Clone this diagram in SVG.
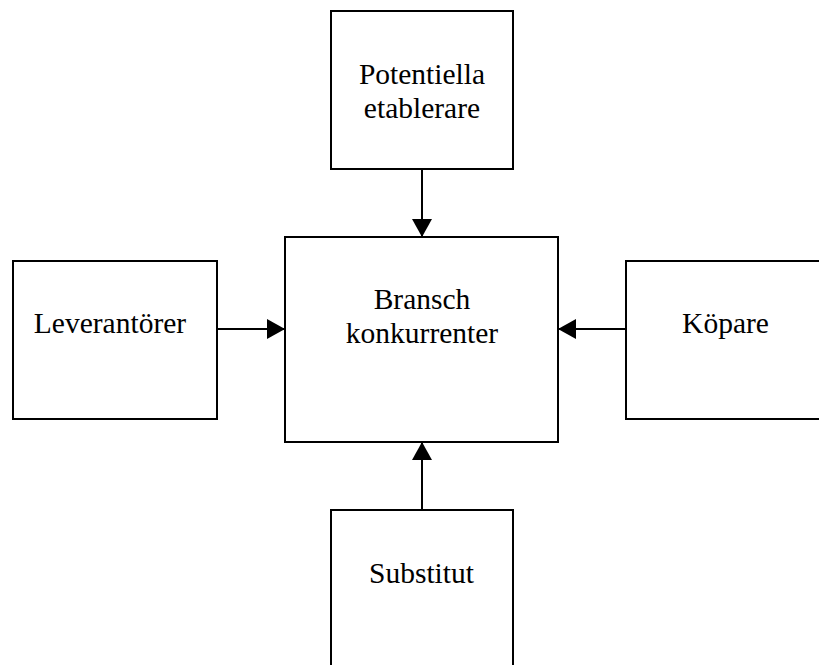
<svg xmlns="http://www.w3.org/2000/svg" width="819" height="665" viewBox="0 0 819 665">
<defs>
<style>
.box{fill:#fff;stroke:#000;stroke-width:2}
.t{font-family:"Liberation Serif","Times New Roman",serif;font-size:29.5px;fill:#000;text-anchor:middle}
.c{stroke:#000;stroke-width:2;fill:none}
</style>
<marker id="ah" markerWidth="18" markerHeight="20" refX="18" refY="10" orient="auto" markerUnits="userSpaceOnUse" viewBox="0 0 18 20">
<path d="M0,0 L18,10 L0,20 Z" fill="#000"/>
</marker>
</defs>
<rect width="819" height="665" fill="#fff"/>
<g id="center">
<rect class="box" x="285" y="237" width="273" height="205"/>
<text class="t" x="422" y="309">Bransch</text>
<text class="t" x="422" y="343">konkurrenter</text>
</g>
<g id="potentiella">
<rect class="box" x="331" y="11" width="182" height="158"/>
<text class="t" x="422" y="84">Potentiella</text>
<text class="t" x="422" y="118">etablerare</text>
</g>
<g id="leverantorer">
<rect class="box" x="13" y="261" width="204" height="158"/>
<text class="t" x="110" y="333">Leverantörer</text>
</g>
<g id="kopare">
<rect class="box" x="626" y="261" width="200" height="158"/>
<text class="t" x="725.5" y="333">Köpare</text>
</g>
<g id="substitut">
<rect class="box" x="331" y="510" width="182" height="170"/>
<text class="t" x="421.5" y="583">Substitut</text>
</g>
<g id="connectors">
<line class="c" x1="422" y1="169" x2="422" y2="237" marker-end="url(#ah)"/>
<line class="c" x1="217" y1="329" x2="285" y2="329" marker-end="url(#ah)"/>
<line class="c" x1="626" y1="329" x2="558" y2="329" marker-end="url(#ah)"/>
<line class="c" x1="422" y1="510" x2="422" y2="442" marker-end="url(#ah)"/>
</g>
</svg>
